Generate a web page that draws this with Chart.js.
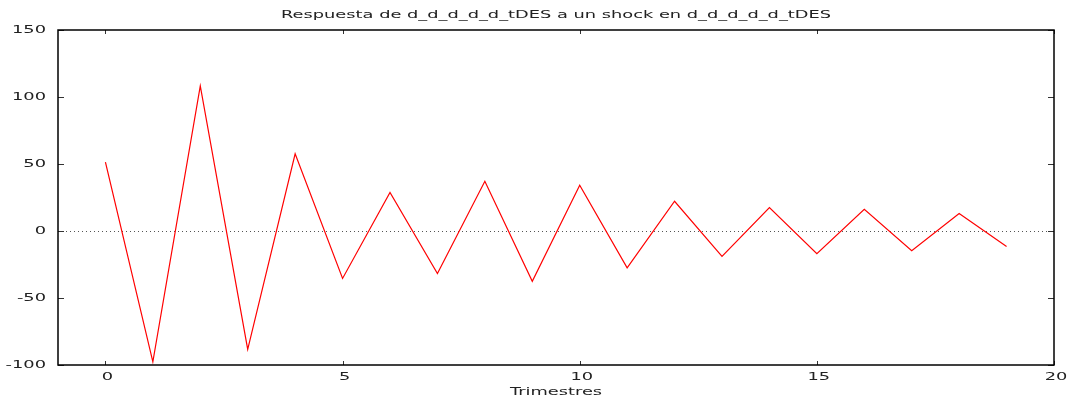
<!DOCTYPE html>
<html>
<head>
<meta charset="utf-8">
<script src="https://cdn.jsdelivr.net/npm/chart.js@4"></script>
<style>
    html, body { margin: 0; padding: 0; background: #fff; }
    #wrap { width: 1073px; height: 398px; }
</style>
</head>
<body>
<div id="wrap"><canvas id="irfChart" width="1073" height="398"></canvas></div>
<script>
// data
const periods = [0, 1, 2, 3, 4, 5, 6, 7, 8, 9, 10, 11, 12, 13, 14, 15, 16, 17, 18, 19];
const response = [51.4, -97.6, 108.2, -88.3, 57.6, -35.4, 28.7, -31.7, 37.1, -37.5,
                  34.2, -27.5, 22.2, -19.0, 17.5, -17.0, 16.2, -14.7, 13.0, -11.5];
const xTicks = [0, 5, 10, 15, 20];
const yTicks = [-100, -50, 0, 50, 100, 150];
const chartTitle = 'Respuesta de d_d_d_d_d_tDES a un shock en d_d_d_d_d_tDES';
const xTitle = 'Trimestres';

const FONT = '10px "DejaVu Sans"';
const SX = 1.78; // the original text is wide, stretch it sideways

function drawText(ctx, text, x, y, align) {
    ctx.save();
    ctx.font = FONT;
    const w = ctx.measureText(text).width * SX;
    let left = x;
    if (align === 'center') left = x - w / 2;
    if (align === 'right') left = x - w;
    ctx.translate(left, y);
    ctx.scale(SX, 1);
    ctx.textAlign = 'left';
    ctx.textBaseline = 'middle';
    ctx.fillStyle = '#222';
    ctx.fillText(text, 0, 0);
    ctx.restore();
}

// gnuplot look: box, inward ticks, dotted zero line, stretched labels
const gnuplotFrame = {
    id: 'gnuplotFrame',
    beforeDatasetsDraw(chart) {
        const { ctx, chartArea: a, scales: { y } } = chart;
        const y0 = Math.round(y.getPixelForValue(0)) + 0.5;
        ctx.save();
        ctx.strokeStyle = '#555';
        ctx.lineWidth = 1;
        ctx.setLineDash([1, 3]);
        ctx.beginPath();
        ctx.moveTo(a.left, y0);
        ctx.lineTo(a.right, y0);
        ctx.stroke();
        ctx.restore();
    },
    afterDatasetsDraw(chart) {
        const { ctx, chartArea: a, scales: { x, y } } = chart;
        ctx.save();
        ctx.strokeStyle = '#333';
        ctx.lineWidth = 1;
        ctx.beginPath();
        y.ticks.forEach(t => {
            const py = Math.round(y.getPixelForValue(t.value)) + 0.5;
            ctx.moveTo(a.left, py); ctx.lineTo(a.left + 6, py);
            ctx.moveTo(a.right, py); ctx.lineTo(a.right - 6, py);
        });
        x.ticks.forEach(t => {
            const px = Math.round(x.getPixelForValue(t.value)) + 0.5;
            ctx.moveTo(px, a.bottom); ctx.lineTo(px, a.bottom - 4);
            ctx.moveTo(px, a.top); ctx.lineTo(px, a.top + 4);
        });
        ctx.stroke();

        ctx.strokeStyle = '#000';
        ctx.lineWidth = 1.5;
        ctx.strokeRect(a.left, a.top, a.right - a.left, a.bottom - a.top);
        ctx.restore();

        y.ticks.forEach(t => drawText(ctx, String(t.value), a.left - 12, y.getPixelForValue(t.value), 'right'));
        x.ticks.forEach(t => drawText(ctx, String(t.value), x.getPixelForValue(t.value) + 2, a.bottom + 12, 'center'));
        const cx = (a.left + a.right) / 2;
        drawText(ctx, chartTitle, cx, 15, 'center');
        drawText(ctx, xTitle, cx, 392, 'center');
    }
};

new Chart(document.getElementById('irfChart'), {
    type: 'line',
    data: {
        datasets: [{
            data: periods.map((p, i) => ({ x: p, y: response[i] })),
            borderColor: '#ff0000',
            borderWidth: 1.2,
            pointRadius: 0,
            tension: 0,
            fill: false
        }]
    },
    options: {
        responsive: false,
        animation: false,
        layout: { padding: { top: 30, right: 19, left: 0, bottom: 0 } },
        plugins: {
            legend: { display: false },
            title: { display: false },
            tooltip: { enabled: false }
        },
        scales: {
            x: {
                type: 'linear',
                min: -1,
                max: 20,
                grid: { display: false },
                border: { display: false },
                ticks: { display: false },
                afterBuildTicks: s => { s.ticks = xTicks.map(v => ({ value: v })); },
                afterFit: s => { s.height = 33; }
            },
            y: {
                min: -100,
                max: 150,
                grid: { display: false },
                border: { display: false },
                ticks: { display: false },
                afterBuildTicks: s => { s.ticks = yTicks.map(v => ({ value: v })); },
                afterFit: s => { s.width = 58; }
            }
        }
    },
    plugins: [gnuplotFrame]
});
</script>
</body>
</html>
